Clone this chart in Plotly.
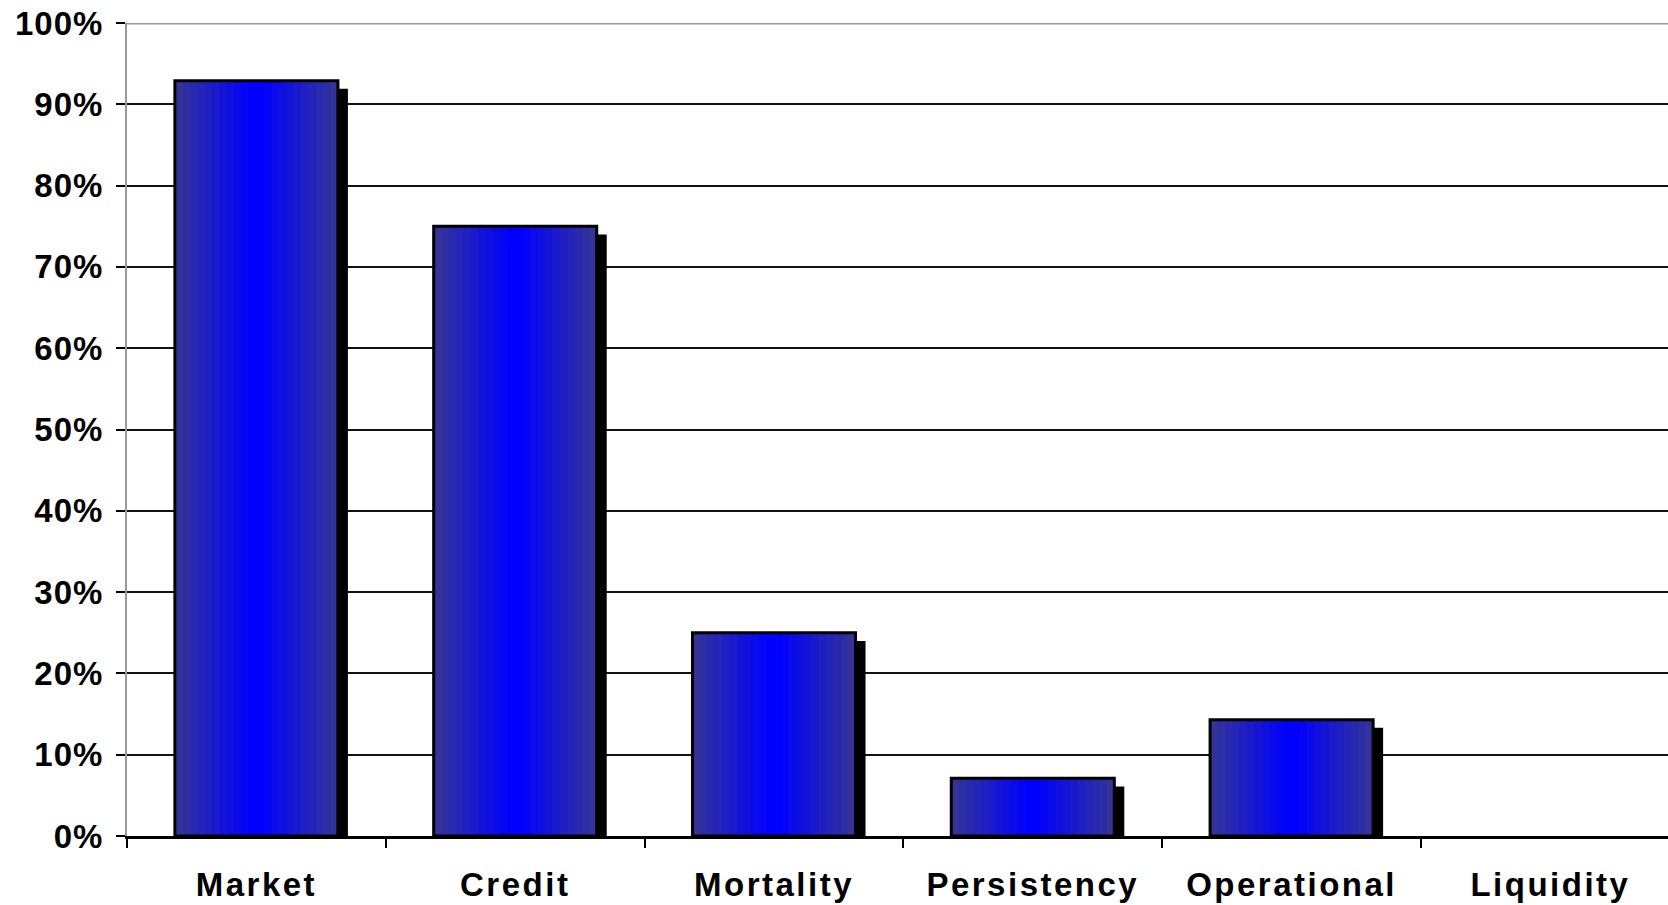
import plotly.graph_objects as go

# Share of respondents citing each risk type (percent)
categories = ["Market", "Credit", "Mortality", "Persistency", "Operational", "Liquidity"]
shares = [92.9, 75.0, 25.0, 7.1, 14.3, 0.0]
y_ticks = [0, 10, 20, 30, 40, 50, 60, 70, 80, 90, 100]
y_tick_labels = [f"{v}%" for v in y_ticks]

BAR_W = 0.63          # bar width in category units
CAT_PX = 258.8        # approximate pixel width of one category slot
SHADOW_DX = 10 / CAT_PX
SHADOW_DROP = 1.0     # shadow top sits slightly below the bar top
N_BANDS = 11
EDGE = (51, 51, 153)
CENTER = (0, 0, 255)

fig = go.Figure()

# drop shadow behind each bar
fig.add_trace(go.Bar(
    x=categories,
    y=[max(v - SHADOW_DROP, 0) for v in shares],
    width=BAR_W,
    offset=-BAR_W / 2 + SHADOW_DX,
    marker=dict(color="black", line=dict(width=0)),
    hoverinfo="skip",
))

# horizontal gradient: nested bars, narrowing toward the bright centre
for k in range(N_BANDS):
    t = k / (N_BANDS - 1)
    col = tuple(round(e + (c - e) * t) for e, c in zip(EDGE, CENTER))
    w = BAR_W * (1 - k / N_BANDS)
    fig.add_trace(go.Bar(
        x=categories,
        y=shares,
        width=w,
        marker=dict(color=f"rgb{col}", line=dict(width=0)),
        hoverinfo="skip",
    ))

# black outline on top (none for empty categories)
fig.add_trace(go.Bar(
    x=categories,
    y=shares,
    width=BAR_W,
    marker=dict(color="rgba(0,0,0,0)",
                line=dict(color="black", width=[3 if v > 0 else 0 for v in shares])),
    hovertemplate="%{x}: %{y:.1f}%<extra></extra>",
))

tick_font = dict(family="Liberation Sans, Arial, sans-serif", size=33,
                 color="black", weight="bold")

fig.update_layout(
    width=1668,
    height=905,
    autosize=False,
    margin=dict(l=127, r=0, t=23, b=69, pad=0),
    paper_bgcolor="white",
    plot_bgcolor="white",
    barmode="overlay",
    showlegend=False,
    xaxis=dict(
        type="category",
        range=[-0.5, -0.5 + 1541 / CAT_PX],
        showline=True,
        linecolor="black",
        linewidth=2.5,
        ticks="outside",
        tickson="boundaries",
        ticklen=9,
        tickwidth=1.5,
        tickcolor="black",
        showgrid=False,
        tickfont=tick_font,
        ticklabelstandoff=18,
    ),
    yaxis=dict(
        range=[0, 100],
        tickvals=y_ticks,
        ticktext=y_tick_labels,
        showline=True,
        linecolor="#999999",
        linewidth=2,
        ticks="outside",
        ticklen=9,
        tickwidth=1.5,
        tickcolor="black",
        showgrid=True,
        gridcolor="#111111",
        gridwidth=1.5,
        zeroline=False,
        tickfont=tick_font,
        ticklabelstandoff=6,
    ),
    shapes=[
        # grey frame line across the top of the plot area
        dict(type="line", xref="paper", yref="y", x0=0, x1=1, y0=100, y1=100,
             line=dict(color="#999999", width=3), layer="above"),
    ],
)

spacing_js = (
    "var gd=document.getElementById('{plot_id}');"
    "function sp(){gd.querySelectorAll('.xtick text').forEach(function(t){t.style.letterSpacing='2.5px';});"
    "gd.querySelectorAll('.ytick text').forEach(function(t){t.style.letterSpacing='1px';});}"
    "sp(); gd.on('plotly_afterplot', sp);"
)

fig.write_html("out.html", post_script=spacing_js)
